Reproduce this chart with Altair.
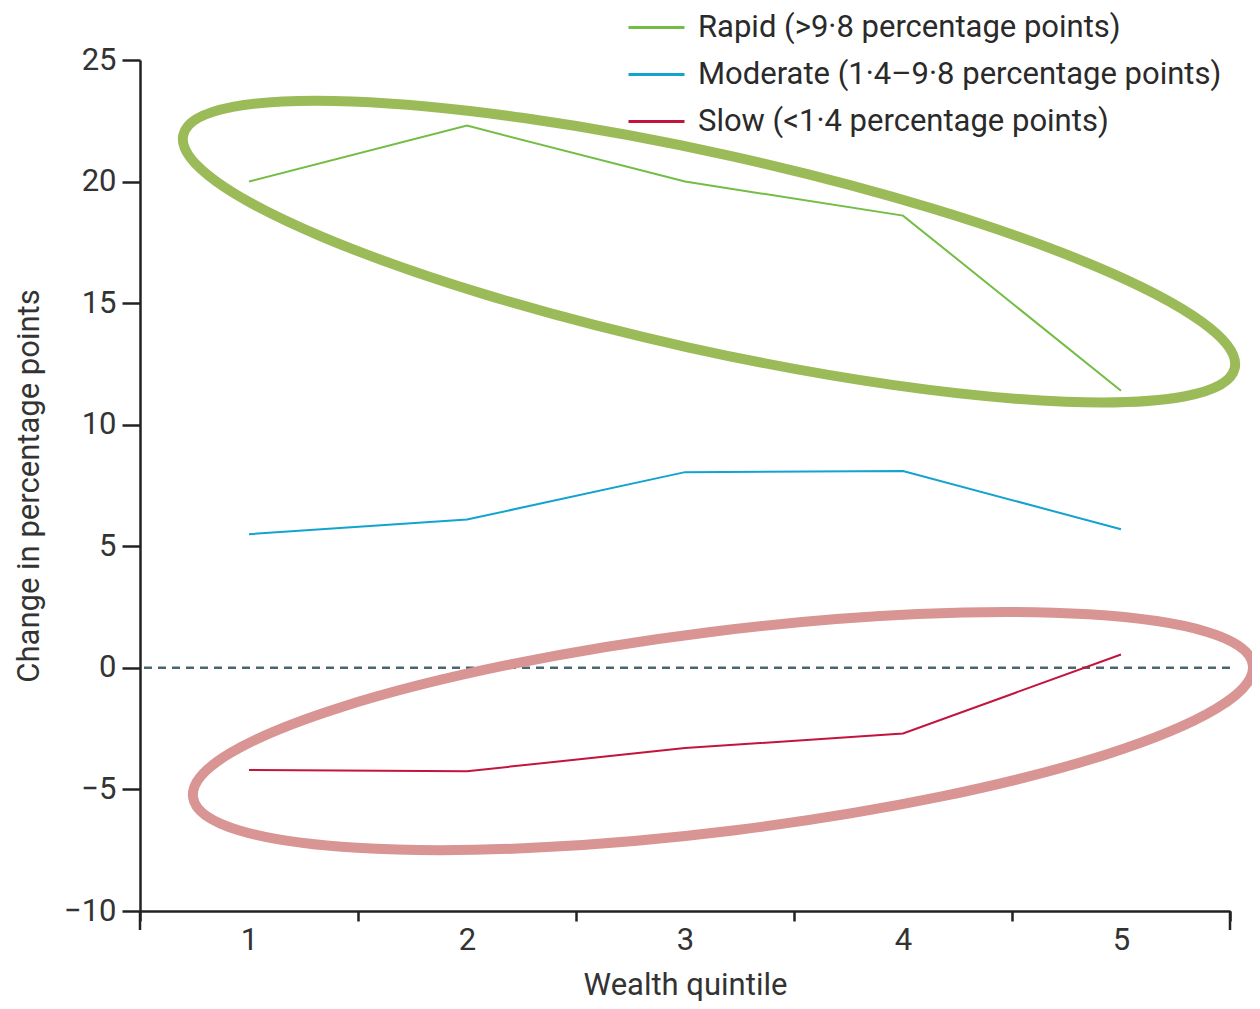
import altair as alt
import pandas as pd

# ---------------- data ----------------
quintiles = [1, 2, 3, 4, 5]
rapid = [20.0, 22.3, 20.0, 18.6, 11.4]
moderate = [5.5, 6.1, 8.05, 8.1, 5.7]
slow = [-4.2, -4.25, -3.3, -2.7, 0.55]

series_names = [
    "Rapid (>9·8 percentage points)",
    "Moderate (1·4–9·8 percentage points)",
    "Slow (<1·4 percentage points)",
]
series_colors = ["#74bd45", "#12a3cf", "#c3143e"]

x_ticks = [0.5, 1, 1.5, 2, 2.5, 3, 3.5, 4, 4.5, 5, 5.5]
x_end_ticks = [0.5, 5.5]
y_ticks = [-10, -5, 0, 5, 10, 15, 20, 25]

# highlight ellipses (annotation): centre in data units, major-axis length (px),
# minor/major ratio, rotation in degrees, colour
ell_x = [3.11, 3.174]
ell_y = [17.12, -2.60]
ell_len = [1077, 1068]
ell_ratio = [0.182, 0.187]
ell_angle = [12.5, 352.9]
ell_colors = ["#9bbb59", "#d99494"]

FONT = "Roboto, sans-serif"
TXT = "#333333"
AX = "#222222"

rows = []
for name, vals in zip(series_names, [rapid, moderate, slow]):
    for q, v in zip(quintiles, vals):
        rows.append({"quintile": q, "value": v, "series": name})
df = pd.DataFrame(rows)

x_scale = alt.Scale(domain=[0.5, 5.5], nice=False, zero=False)
y_scale = alt.Scale(domain=[-10, 25], nice=False, zero=False)

x_axis = alt.Axis(
    values=x_ticks,
    title="Wealth quintile",
    labelExpr="datum.value % 1 == 0 ? format(datum.value, 'd') : ''",
    tickOpacity={"condition": {"test": "datum.value % 1 == 0", "value": 0}, "value": 1},
    tickSize=10,
    labelOverlap=False,
    labelFlush=False,
    labelPadding=4,
    titlePadding=15,
    grid=False,
)
y_axis = alt.Axis(
    values=y_ticks,
    title="Change in percentage points",
    tickSize=18,
    labelPadding=6,
    titlePadding=18,
    grid=False,
)

zero = alt.Chart(pd.DataFrame({"y": [0]})).mark_rule(
    strokeDash=[8, 6], strokeWidth=2.5, color="#4b6672"
).encode(y=alt.Y("y:Q", scale=y_scale, axis=y_axis))

# longer end ticks of the x axis (continuing below the axis line)
end_ticks = alt.Chart(pd.DataFrame({"x": x_end_ticks, "y": [-10, -10]})).mark_rule(
    strokeWidth=2.5, color=AX
).encode(
    x=alt.X("x:Q", scale=x_scale, axis=x_axis),
    y=alt.Y("y:Q", scale=y_scale),
    y2=alt.value(870),
)

lines = alt.Chart(df).mark_line(strokeWidth=2).encode(
    x=alt.X("quintile:Q", scale=x_scale, axis=x_axis),
    y=alt.Y("value:Q", scale=y_scale, axis=y_axis),
    color=alt.Color(
        "series:N",
        scale=alt.Scale(domain=series_names, range=series_colors),
        legend=alt.Legend(
            orient="none",
            legendX=487,
            legendY=-56,
            title=None,
            symbolType="stroke",
            symbolSize=3136,
            symbolStrokeWidth=3,
            labelFontSize=31,
            labelFont=FONT,
            labelColor="#2a2a2a",
            clipHeight=47,
            rowPadding=0,
            labelOffset=12,
            padding=0,
            labelLimit=0,
        ),
    ),
    detail="series:N",
)

layers = [zero, end_ticks, lines]
for cx, cy, ln, r, ang, col in zip(ell_x, ell_y, ell_len, ell_ratio, ell_angle, ell_colors):
    path = f"M -1 0 A 1 {r} 0 1 1 1 0 A 1 {r} 0 1 1 -1 0 Z"
    e = alt.Chart(pd.DataFrame({"x": [cx], "y": [cy], "angle": [ang]})).mark_point(
        shape=path, size=ln * ln, filled=False, stroke=col, strokeWidth=10, opacity=1
    ).encode(
        x=alt.X("x:Q", scale=x_scale),
        y=alt.Y("y:Q", scale=y_scale),
        angle=alt.Angle("angle:Q", scale=None),
    )
    layers.append(e)

chart = alt.layer(*layers).properties(
    width=1090,
    height=851,
    autosize=alt.AutoSizeParams(type="none"),
    padding={"left": 132, "top": 52, "right": 22, "bottom": 90},
).configure_view(stroke=None).configure_axis(
    labelFont=FONT,
    titleFont=FONT,
    labelFontSize=31,
    titleFontSize=31,
    titleFontWeight="normal",
    labelColor=TXT,
    titleColor=TXT,
    domainColor=AX,
    tickColor=AX,
    domainWidth=2.5,
    tickWidth=2.5,
)

chart.save("out.html", embed_options={"renderer": "svg", "actions": False})
